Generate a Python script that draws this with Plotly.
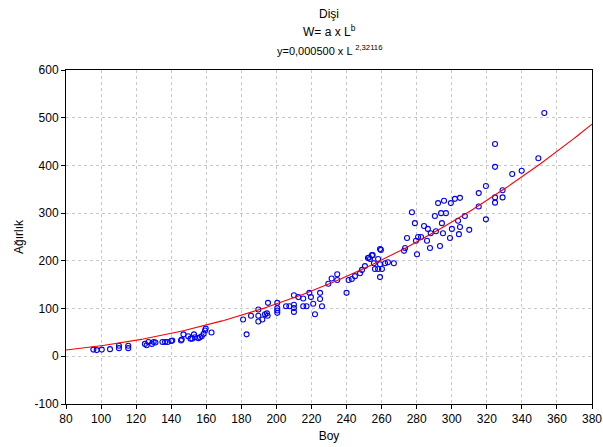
import numpy as np
import plotly.graph_objects as go

# Length (Boy) and weight (Ağırlık) observations, females
boy = [95.6, 97.5, 100.4, 105.1, 110.2, 110.2, 115.5, 115.5,
       125, 126, 127, 129, 130, 131, 135, 136.5, 138, 140, 140.6,
       145.6, 146, 147, 149.7, 151, 152, 153, 153.6, 155.5, 156.4,
       157.4, 158.5, 159.3, 159.7, 163,
       181, 183, 185.5, 189.7, 189.7, 189.7, 192, 193.5, 194.6, 195.2, 195,
       200.5, 200.5, 200.5, 200.5, 205.5, 207.4, 210, 210, 210, 210,
       212.5, 215.3, 215.3, 217.2, 218.8, 219.7, 221, 222, 224.9, 224.9,
       226, 229.6, 231.5, 234.7, 234.7, 240, 241.2, 243, 244.8, 247.7,
       248.8, 250.5, 252.2, 252.8, 253.4, 254.5, 254.9, 255.6, 256.2, 258,
       258, 259.1, 259.1, 259.6, 260.2, 259.1, 262, 263.6, 267,
       272.8, 273.4, 274.5, 277.3, 279, 279.6, 280.2, 280.8, 282.5, 284.2,
       285.9, 286.4, 287.6, 288, 290.4, 291, 292.2, 293.3, 293.9, 294.4,
       295, 295.6, 296.7, 299, 299.5, 300.1, 301.8, 303.6, 304.1, 304.7,
       304.7, 307.5, 310,
       315.4, 315.4, 319.5, 319.5, 324.7, 324.7, 324.7, 324.7, 329, 329,
       334.5, 339.9, 349.4, 352.8]
agirlik = [14, 13, 14, 15, 22, 17, 22, 17,
           26, 23, 30, 26, 30, 29, 30, 30, 30, 32, 33,
           33, 35, 46, 42, 37, 37, 46, 40, 38, 40,
           42, 47, 54, 58, 50,
           77, 46, 85, 98, 85, 73, 77, 88, 90, 112, 85,
           112, 101, 96, 91, 105, 105, 108, 101, 93, 128,
           124, 121, 105, 105, 133, 124, 110, 88, 133, 120,
           105, 152, 163, 172, 160, 133, 160, 162, 168, 174,
           181, 189, 206, 207, 204, 212, 212, 195, 183, 204,
           183, 225, 193, 223, 183, 166, 195, 197, 195,
           221, 227, 248, 302, 279, 242, 214, 250, 250, 273,
           242, 267, 227, 258, 294, 262, 321, 231, 300, 279,
           258, 326, 300, 248, 321, 267, 330, 284, 256, 332,
           271, 294, 265,
           314, 342, 357, 287, 445, 397, 333, 322, 348, 333,
           382, 389, 415, 510]

# Fitted power model W = a * L^b
a = 0.000500
b = 2.32116
L_fit = np.linspace(80, 380, 301)
W_fit = a * L_fit ** b

x_ticks = list(range(80, 381, 20))
y_ticks = list(range(-100, 601, 100))
y_tick_text = [str(v) for v in y_ticks]

font_family = "Liberation Sans, Arial, sans-serif"

fig = go.Figure()
fig.add_trace(go.Scatter(
    x=boy, y=agirlik, mode="markers",
    marker=dict(symbol="circle-open", size=5, color="#0000ff",
                line=dict(width=1.1, color="#0000ff")),
    showlegend=False, cliponaxis=False,
))
fig.add_trace(go.Scatter(
    x=L_fit, y=W_fit, mode="lines",
    line=dict(color="#ff0000", width=1.1),
    showlegend=False,
))

axis_common = dict(
    showline=True, linecolor="black", linewidth=1, mirror=True,
    ticks="outside", ticklen=4, tickcolor="black", tickwidth=1,
    showgrid=True, gridcolor="#c8c8c8", griddash="dot", gridwidth=1,
    zeroline=False, automargin=False,
    tickfont=dict(size=12, color="black", family=font_family),
)

fig.update_layout(
    width=603, height=447,
    margin=dict(l=66, r=11, t=70, b=43),
    paper_bgcolor="white", plot_bgcolor="white",
    font=dict(family=font_family, color="black", size=12),
    xaxis=dict(range=[80, 380], tickvals=x_ticks,
               title=dict(text="Boy", font=dict(size=12), standoff=6),
               **axis_common),
    yaxis=dict(range=[-100, 600], tickvals=y_ticks, ticktext=y_tick_text,
               title=dict(text="Ağırlık", font=dict(size=12), standoff=8),
               **axis_common),
)

# Title lines positioned in pixels from the top of the page
plot_h = 447 - 70 - 43
title_lines = [
    ("Dişi", 14, 12),
    ("W= a x L<sup>b</sup>", 31, 12),
    ("y=0,000500 x L <sup>2,32116</sup>", 50, 11),
]
for text, py, size in title_lines:
    fig.add_annotation(text=text, x=0.5, xref="paper", yref="paper",
                       y=1 + (70 - py) / plot_h, yanchor="middle",
                       showarrow=False, font=dict(size=size))

fig.write_html("out.html")
